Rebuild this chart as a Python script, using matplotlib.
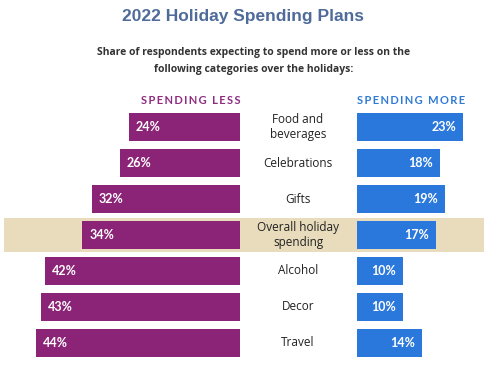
import matplotlib
matplotlib.use("Agg")
import matplotlib.pyplot as plt
import matplotlib.transforms as mtransforms
from matplotlib.patches import Rectangle

categories = ["Food and\nbeverages", "Celebrations", "Gifts", "Overall holiday\nspending",
              "Alcohol", "Decor", "Travel"]
spending_less = [24, 26, 32, 34, 42, 43, 44]
spending_more = [23, 18, 19, 17, 10, 10, 14]
highlight = "Overall holiday\nspending"

PURPLE = "#8b2477"
BLUE = "#2b78dc"
TAN = "#e8dcbc"

W, H = 500, 368
fig = plt.figure(figsize=(W / 100, H / 100), dpi=100)
fig.patch.set_facecolor("white")


def px(x0, y0, x1, y1):
    # pixel box (top-left origin) -> figure fraction rect
    return [x0 / W, 1 - y1 / H, (x1 - x0) / W, (y1 - y0) / H]


ax_l = fig.add_axes(px(0, 109, 240, 361), zorder=2)
ax_r = fig.add_axes(px(357, 109, 500, 361), zorder=2)

rows = range(len(categories))
bar_h = 0.78

# highlight band behind the overall row
hi = categories.index(highlight)
band = Rectangle((4 / W, 1 - (218 + 34) / H), 480 / W, 34 / H, transform=fig.transFigure,
                 facecolor=TAN, edgecolor="none", zorder=0)
fig.patches.append(band)

ax_l.barh(rows, spending_less, height=bar_h, color=PURPLE)
ax_r.barh(rows, spending_more, height=bar_h, color=BLUE)

ax_l.set_xlim(51.8, 0)
ax_r.set_xlim(0, 30.9)
for ax in (ax_l, ax_r):
    ax.set_ylim(6.5, -0.5)
    ax.axis("off")
    ax.patch.set_alpha(0)

lab_font = dict(family=["Lato", "DejaVu Sans"], fontweight="bold", color="white", fontsize=9)
for i, v in enumerate(spending_less):
    ax_l.annotate(f"{v}%", (v, i), xytext=(5, 0), textcoords="offset points",
                  ha="left", va="center", **lab_font)
for i, v in enumerate(spending_more):
    ax_r.annotate(f"{v}%", (v, i), xytext=(-5, 0), textcoords="offset points",
                  ha="right", va="center", **lab_font)

# category names in the middle gap
trans = mtransforms.blended_transform_factory(fig.transFigure, ax_l.transData)
for i, c in enumerate(categories):
    fig.text(298 / W, i, c, transform=trans, ha="center", va="center",
             fontsize=8.5, color="#222222", linespacing=1.2, zorder=3,
             family=["Open Sans", "DejaVu Sans"])

fig.text(243 / W, 1 - 16 / H, "2022 Holiday Spending Plans", ha="center", va="center",
         fontsize=12.5, fontweight="bold", color="#4f6b9a", family="Liberation Sans")
fig.text(254 / W, 1 - 61 / H,
         "Share of respondents expecting to spend more or less on the\n"
         "following categories over the holidays:",
         ha="center", va="center", fontsize=7.5, fontweight="bold", color="#333333",
         linespacing=1.7, family=["Open Sans", "DejaVu Sans"])

sp = "\u2009"
fig.text(191 / W, 1 - 100 / H, sp.join("SPENDING LESS"), ha="center", va="center",
         fontsize=8, fontweight="bold", color="#8e2c80", family=["Lato", "DejaVu Sans"])
fig.text(411 / W, 1 - 100 / H, sp.join("SPENDING MORE"), ha="center", va="center",
         fontsize=8, fontweight="bold", color="#2f7ad6", family=["Lato", "DejaVu Sans"])

fig.savefig("out.png", dpi=100)
